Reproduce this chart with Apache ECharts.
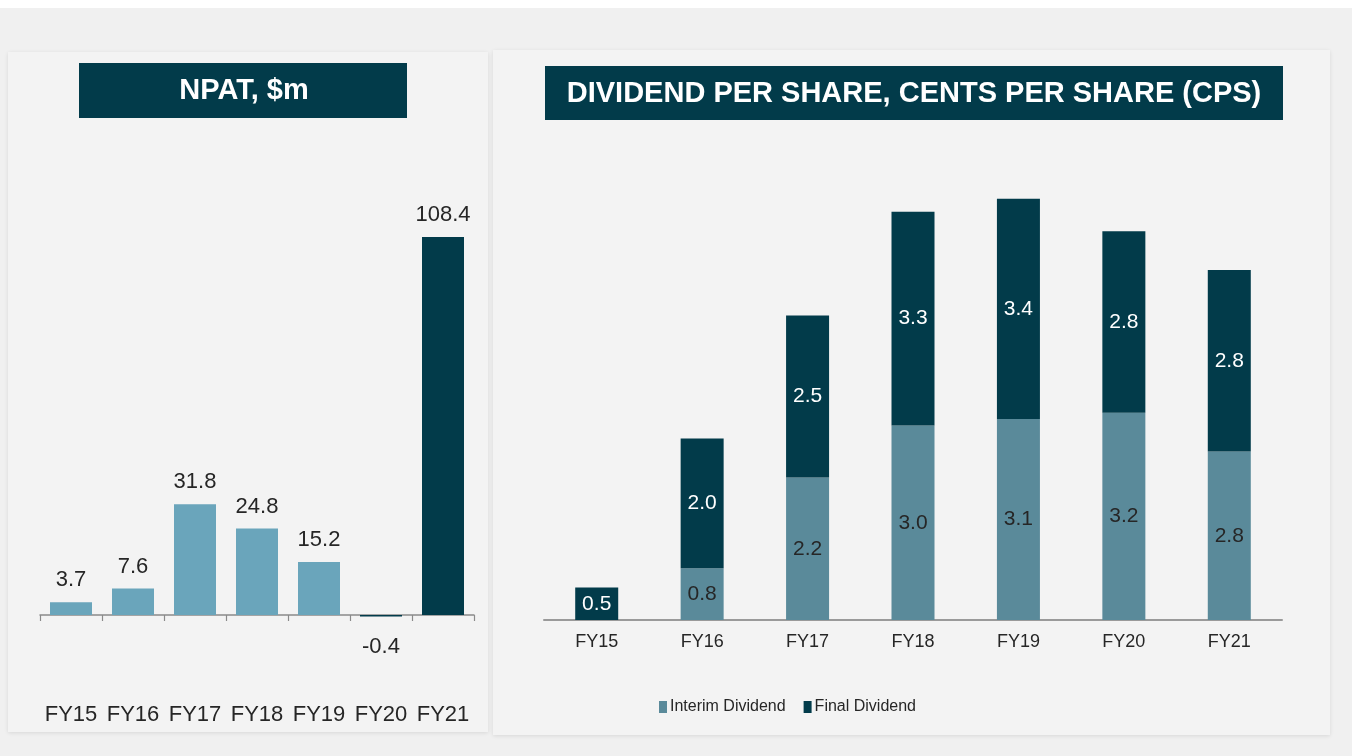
<!DOCTYPE html>
<html>
<head>
<meta charset="utf-8">
<script src="https://cdn.jsdelivr.net/npm/echarts@6/dist/echarts.min.js"></script>
<style>
	html,body{margin:0;padding:0;background:#f0f0f0}
	#chart{width:1352px;height:756px}
</style>
</head>
<body>
<div id="chart"></div>
<script>
	// data
	var years = ['FY15', 'FY16', 'FY17', 'FY18', 'FY19', 'FY20', 'FY21'];
	var npat = [3.7, 7.6, 31.8, 24.8, 15.2, -0.4, 108.4];
	var npatDark = ['FY20', 'FY21'];
	// bar heights as drawn; printed labels kept separately (FY21 interim bar is drawn shorter than its 2.8 label)
	var interimDps = [0, 0.8, 2.2, 3.0, 3.1, 3.2, 2.6];
	var finalDps = [0.5, 2.0, 2.5, 3.3, 3.4, 2.8, 2.8];
	var interimLabels = ['', '0.8', '2.2', '3.0', '3.1', '3.2', '2.8'];
	var finalLabels = ['0.5', '2.0', '2.5', '3.3', '3.4', '2.8', '2.8'];

	var dark = '#023b4a';
	var light = '#6aa5bb';
	var mid = '#5a8a9a';
	var txt = '#262626';
	var font = '"Liberation Sans", Arial, sans-serif';

	var myChart = echarts.init(document.getElementById('chart'));

	var npatData = npat.map(function (v, i) {
		return {
			value: v,
			itemStyle: {color: npatDark.indexOf(years[i]) >= 0 ? dark : light},
			label: v < 0 ? {position: 'bottom', distance: 20} : {position: 'top'}
		};
	});

	option = {
		backgroundColor: '#f0f0f0',
		animation: false,
		graphic: [
			{type: 'rect', shape: {x: 0, y: 0, width: 1352, height: 8}, style: {fill: '#ffffff'}, silent: true},
			{type: 'rect', shape: {x: 8, y: 52, width: 480, height: 680}, style: {fill: '#f3f3f3', shadowBlur: 4, shadowColor: 'rgba(0,0,0,0.10)', shadowOffsetY: 1}, silent: true},
			{type: 'rect', shape: {x: 493, y: 50, width: 837, height: 685}, style: {fill: '#f3f3f3', shadowBlur: 4, shadowColor: 'rgba(0,0,0,0.10)', shadowOffsetY: 1}, silent: true},
			{type: 'rect', shape: {x: 79, y: 63, width: 328, height: 55}, style: {fill: dark}},
			{type: 'text', x: 244, y: 91, style: {text: 'NPAT, $m', fill: '#fff', font: 'bold 29px ' + font, align: 'center', verticalAlign: 'middle'}},
			{type: 'rect', shape: {x: 545, y: 66, width: 738, height: 54}, style: {fill: dark}},
			{type: 'text', x: 914, y: 94, style: {text: 'DIVIDEND PER SHARE, CENTS PER SHARE (CPS)', fill: '#fff', font: 'bold 29px ' + font, align: 'center', verticalAlign: 'middle'}}
		],
		legend: {
			left: 654,
			top: 694,
			itemWidth: 8,
			itemHeight: 12,
			itemGap: 18,
			icon: 'rect',
			data: ['Interim Dividend', 'Final Dividend'],
			textStyle: {color: txt, fontSize: 16, fontFamily: font, padding: [0, 0, 0, -2]}
		},
		grid: [
			{left: 40, top: 196.6, width: 434, height: 453.3},
			{left: 544, top: 166.4, width: 738, height: 453.6}
		],
		xAxis: [
			{
				type: 'category', gridIndex: 0, data: years,
				axisLine: {onZero: true, lineStyle: {color: '#8a8a8a', width: 1.5}},
				axisTick: {show: true, length: 6, lineStyle: {color: '#8a8a8a', width: 1.2}},
				axisLabel: {margin: 54, color: txt, fontSize: 22, fontFamily: font, interval: 0}
			},
			{
				type: 'category', gridIndex: 1, data: years,
				axisLine: {lineStyle: {color: '#9a9a9a', width: 2}},
				axisTick: {show: false},
				axisLabel: {margin: 13, color: txt, fontSize: 18, fontFamily: font, interval: 0}
			}
		],
		yAxis: [
			{type: 'value', gridIndex: 0, min: -10, max: 120, show: false, splitLine: {show: false}},
			{type: 'value', gridIndex: 1, min: 0, max: 7, show: false, splitLine: {show: false}}
		],
		series: [
			{
				name: 'NPAT',
				type: 'bar',
				xAxisIndex: 0,
				yAxisIndex: 0,
				barWidth: 42,
				data: npatData,
				label: {show: true, distance: 11, color: txt, fontSize: 22, fontFamily: font, formatter: function (p) { return p.value.toFixed(1); }}
			},
			{
				name: 'Interim Dividend',
				type: 'bar',
				stack: 'dps',
				xAxisIndex: 1,
				yAxisIndex: 1,
				barWidth: 43,
				itemStyle: {color: mid},
				data: interimDps,
				label: {show: true, position: 'inside', color: txt, fontSize: 21, fontFamily: font, formatter: function (p) { return interimLabels[p.dataIndex]; }}
			},
			{
				name: 'Final Dividend',
				type: 'bar',
				stack: 'dps',
				xAxisIndex: 1,
				yAxisIndex: 1,
				barWidth: 43,
				itemStyle: {color: dark},
				data: finalDps,
				label: {show: true, position: 'inside', color: '#fff', fontSize: 21, fontFamily: font, formatter: function (p) { return finalLabels[p.dataIndex]; }}
			}
		]
	};

	myChart.setOption(option);
</script>
</body>
</html>
